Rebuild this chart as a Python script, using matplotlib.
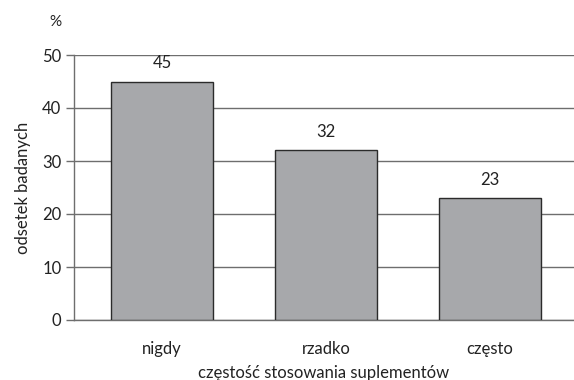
import matplotlib
matplotlib.use("Agg")
import matplotlib.pyplot as plt

categories = ["nigdy", "rzadko", "często"]
values = [45, 32, 23]
yticks = [0, 10, 20, 30, 40, 50]

plt.rcParams["font.family"] = ["Lato", "DejaVu Sans"]

fig = plt.figure(figsize=(5.74, 3.80), dpi=100)
ax = fig.add_axes([74 / 574, 1 - 320 / 380, 500 / 574, 265 / 380])

grid_col = "#6e6e6e"
text_col = "#222222"
x = range(len(categories))
ax.bar(x, values, width=0.622, color="#a7a8ab", edgecolor="#2b2b2b",
       linewidth=1.0, zorder=3)

for xi, v in zip(x, values):
    ax.text(xi, v + 1.9, f"{v}", ha="center", va="bottom", fontsize=12,
            color=text_col)

ax.set_xlim(-0.537, 2.512)
ax.set_ylim(0, 50)
ax.set_yticks(yticks)
ax.set_xticks(list(x))
ax.set_xticklabels(categories, fontsize=12, color=text_col)
ax.tick_params(axis="y", labelsize=12, length=6, width=1, color=grid_col,
               labelcolor=text_col, pad=3)
ax.tick_params(axis="x", length=0, pad=15)
ax.yaxis.grid(True, color=grid_col, linewidth=1.0, zorder=0)
ax.set_axisbelow(True)

for side in ["top", "right"]:
    ax.spines[side].set_visible(False)
for side in ["left", "bottom"]:
    ax.spines[side].set_color(grid_col)
    ax.spines[side].set_linewidth(1.0)

ax.set_xlabel("częstość stosowania suplementów", fontsize=12,
              color=text_col, labelpad=6)
ax.set_ylabel("odsetek badanych", fontsize=12, color=text_col, labelpad=8)
fig.text(55 / 574, 1 - 22 / 380, "%", ha="center", va="center",
         fontsize=11, color=text_col)

fig.savefig("out.png", dpi=100)
